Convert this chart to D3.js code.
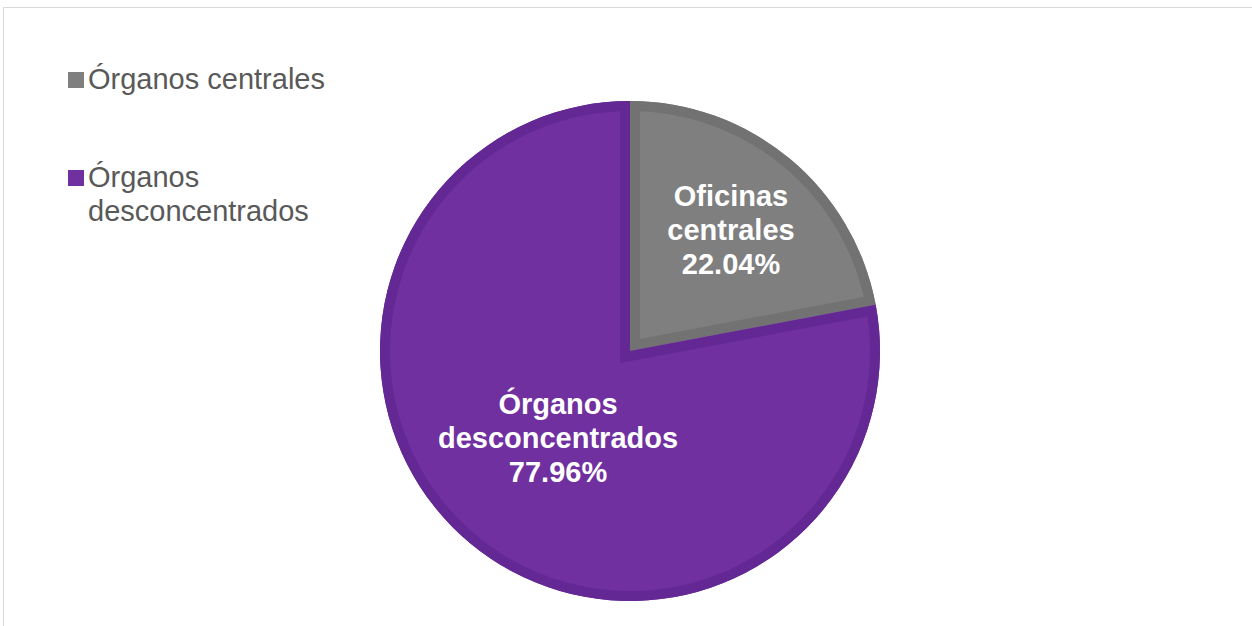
<!DOCTYPE html>
<html>
<head>
<meta charset="utf-8">
<script src="https://cdn.jsdelivr.net/npm/d3@7"></script>
<style>
  body { margin: 0; background: #fff; }
  text { font-family: "Liberation Sans", Arial, sans-serif; }
</style>
</head>
<body>
<svg id="chart" width="1252" height="626"></svg>
<script>
const categories = ["Órganos centrales", "Órganos desconcentrados"];
const values = [22.04, 77.96];
const sliceLabels = [["Oficinas", "centrales", "22.04%"], ["Órganos", "desconcentrados", "77.96%"]];
const legendLines = [["Órganos centrales"], ["Órganos", "desconcentrados"]];
const fills = ["#7f7f7f", "#7030a0"];
const edges = ["#727272", "#632893"];

const svg = d3.select("#chart");
const width = +svg.attr("width");
const height = +svg.attr("height");

// chart frame
svg.append("rect")
  .attr("x", 3.5).attr("y", 7.5)
  .attr("width", width + 10).attr("height", height + 10)
  .attr("fill", "none")
  .attr("stroke", "#d9d9d9");

const cx = 630, cy = 351, radius = 250;
const g = svg.append("g").attr("transform", `translate(${cx},${cy})`);

const pie = d3.pie().sort(null)(values);
const arc = d3.arc().innerRadius(0).outerRadius(radius);
const defs = svg.append("defs");

pie.forEach((d, i) => {
  defs.append("clipPath").attr("id", "clip" + i)
    .append("path").attr("d", arc(d));
  g.append("path")
    .attr("d", arc(d))
    .attr("fill", fills[i]);
  g.append("path")
    .attr("d", arc(d))
    .attr("fill", "none")
    .attr("stroke", edges[i])
    .attr("stroke-width", 20)
    .attr("clip-path", `url(#clip${i})`);
});

// slice labels
const labelPos = [[101, -145], [-72, 63]];
pie.forEach((d, i) => {
  const t = g.append("text")
    .attr("text-anchor", "middle")
    .attr("fill", "#fff")
    .attr("font-weight", "bold")
    .attr("font-size", 29)
    .attr("x", labelPos[i][0])
    .attr("y", labelPos[i][1]);
  sliceLabels[i].forEach((s, k) => {
    t.append("tspan")
      .attr("x", labelPos[i][0])
      .attr("dy", k === 0 ? 0 : 34)
      .text(s);
  });
});

// legend
const legend = svg.append("g").attr("transform", "translate(68,0)");
const legendY = [89, 187];
categories.forEach((c, i) => {
  legend.append("rect")
    .attr("x", 0).attr("y", legendY[i] - 17)
    .attr("width", 16).attr("height", 16)
    .attr("fill", fills[i]);
  const t = legend.append("text")
    .attr("fill", "#595959")
    .attr("font-size", 29)
    .attr("y", legendY[i]);
  legendLines[i].forEach((s, k) => {
    t.append("tspan").attr("x", 20).attr("dy", k === 0 ? 0 : 34).text(s);
  });
});
</script>
</body>
</html>
